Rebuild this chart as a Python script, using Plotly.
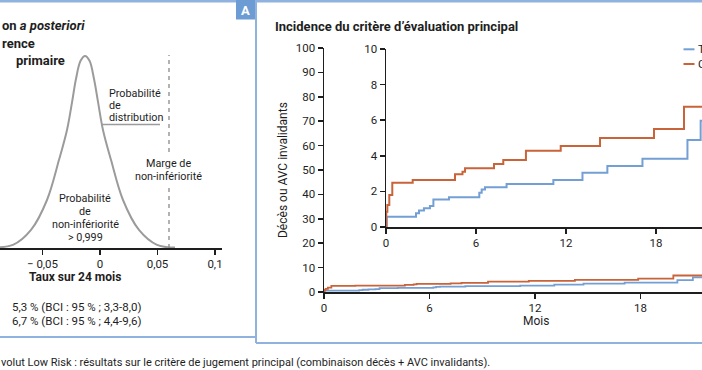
import plotly.graph_objects as go

W, H = 702, 370

# ---------------- data ----------------
# Kaplan-Meier style cumulative incidence (%)
tavi_months = [0, 0.05, 2.0, 2.2, 2.53, 2.93, 3.16, 4.2, 6.22, 6.38, 6.6, 8.04, 11.16, 13.1, 14.76, 17.1, 20.1, 20.98, 24]
tavi_pct = [0, 0.58, 0.77, 0.92, 1.05, 1.18, 1.55, 1.67, 1.93, 2.1, 2.23, 2.42, 2.64, 3.05, 3.43, 3.84, 4.89, 5.97, 5.97]
chir_months = [0, 0.02, 0.09, 0.22, 0.42, 1.78, 4.6, 5.1, 5.27, 7.2, 7.82, 9.33, 11.65, 14.27, 17.87, 19.87, 24]
chir_pct = [0, 0.86, 1.24, 1.8, 2.49, 2.64, 2.96, 3.1, 3.3, 3.54, 3.76, 4.29, 4.55, 5.0, 5.5, 6.76, 6.76]

# posterior distribution of the difference
post_diff = [-0.0957, -0.0757, -0.060, -0.0461, -0.0357, -0.0287, -0.0243, -0.0209, -0.0169, -0.0130,
             -0.0091, -0.0052, -0.0017, 0.0026, 0.0096, 0.0200, 0.0339, 0.0496, 0.0652]
post_density = [0.004, 0.016, 0.094, 0.25, 0.458, 0.615, 0.76, 0.88, 0.975, 1.0,
                0.975, 0.88, 0.76, 0.615, 0.458, 0.25, 0.094, 0.016, 0.002]
ni_margin = 0.06

left_tickvals = [-0.05, 0, 0.05, 0.1]
left_ticktext = ["\u2212 0,05", "0", "0,05", "0,1"]
main_yticks = [0, 10, 20, 30, 40, 50, 60, 70, 80, 90, 100]
inset_yticks = [0, 2, 4, 6, 8, 10]
month_ticks = [0, 6, 12, 18]

series_names = ["TAVI", "Chirurgie"]
ci_texts = ["5,3 % (BCI : 95 % ; 3,3-8,0)", "6,7 % (BCI : 95 % ; 4,4-9,6)"]

# ---------------- style ----------------
BLUE = "#739fd4"
RED = "#c8633a"
FRAME = "#8fb3de"
AFILL = "#6d9bd4"
GRAY = "#9b9b9b"
INK = "#1e1e1e"
FONT = "Roboto"


def px(x):
    return x / W


def py(y):
    return 1 - y / H


fig = go.Figure()

# left: posterior curve
fig.add_trace(go.Scatter(x=post_diff, y=post_density, mode="lines",
                         line=dict(color=GRAY, width=2, shape="spline", smoothing=1),
                         xaxis="x", yaxis="y", showlegend=False, hoverinfo="skip"))

# main chart + inset
for xa, ya, lw in [("x2", "y2", 1.8), ("x3", "y3", 2)]:
    fig.add_trace(go.Scatter(x=tavi_months, y=tavi_pct, mode="lines", name=series_names[0],
                             line=dict(color=BLUE, width=lw, shape="hv"),
                             xaxis=xa, yaxis=ya, showlegend=False))
    fig.add_trace(go.Scatter(x=chir_months, y=chir_pct, mode="lines", name=series_names[1],
                             line=dict(color=RED, width=lw, shape="hv"),
                             xaxis=xa, yaxis=ya, showlegend=False))

axis_common = dict(showline=True, linecolor=INK, linewidth=1.5, ticks="outside", ticklen=5,
                   tickwidth=1.5, tickcolor=INK, showgrid=False, zeroline=False, automargin=False,
                   tickfont=dict(family=FONT, size=11.5, color=INK), fixedrange=True)

fig.update_layout(
    width=W, height=H, autosize=False,
    margin=dict(l=0, r=0, t=0, b=0, pad=0, autoexpand=False),
    paper_bgcolor="white", plot_bgcolor="rgba(0,0,0,0)",
    font=dict(family=FONT, color=INK),
    showlegend=False,
    xaxis=dict(domain=[0, px(222)], range=[-0.08696, 0.10609], anchor="y",
               tickvals=left_tickvals, ticktext=left_ticktext, **axis_common),
    yaxis=dict(domain=[py(248), py(36.8)], range=[0, 1.1], anchor="x", visible=False, fixedrange=True),
    xaxis2=dict(domain=[px(324), 1], range=[0, 21.5], anchor="y2", tickvals=month_ticks, **axis_common),
    yaxis2=dict(domain=[py(292), py(48)], range=[0, 100], anchor="x2", tickvals=main_yticks, **axis_common),
    xaxis3=dict(domain=[px(386), 1], range=[0, 21.07], anchor="y3", tickvals=month_ticks, **axis_common),
    yaxis3=dict(domain=[py(227), py(49)], range=[0, 10], anchor="x3", tickvals=inset_yticks, **axis_common),
)

shapes = []
# frame
shapes.append(dict(type="line", xref="paper", yref="paper", x0=0, x1=1, y0=py(1.3), y1=py(1.3),
                   line=dict(color=FRAME, width=2.5)))
shapes.append(dict(type="line", xref="paper", yref="paper", x0=px(256), x1=px(256), y0=py(0), y1=py(343),
                   line=dict(color=FRAME, width=2)))
shapes.append(dict(type="line", xref="paper", yref="paper", x0=0, x1=px(256), y0=py(337), y1=py(337),
                   line=dict(color=FRAME, width=2)))
shapes.append(dict(type="line", xref="paper", yref="paper", x0=px(256), x1=1, y0=py(343), y1=py(343),
                   line=dict(color=FRAME, width=2)))
# "A" tag
shapes.append(dict(type="rect", xref="paper", yref="paper", x0=px(236), x1=px(255), y0=py(0), y1=py(19.5),
                   fillcolor=AFILL, line=dict(width=0)))
# non-inferiority margin
shapes.append(dict(type="line", xref="x", yref="paper", x0=ni_margin, x1=ni_margin, y0=py(248), y1=py(55),
                   line=dict(color="#8a8a8a", width=1.3, dash="4px,4px")))
# leader line under "distribution"
shapes.append(dict(type="line", xref="paper", yref="paper", x0=px(102), x1=px(160), y0=py(124.5), y1=py(124.5),
                   line=dict(color=GRAY, width=1.5)))
# legend swatches
for yy, col in [(49.3, BLUE), (64, RED)]:
    shapes.append(dict(type="line", xref="paper", yref="paper", x0=px(683.5), x1=px(694.5), y0=py(yy), y1=py(yy),
                       line=dict(color=col, width=2)))

annotations = []


def ann(text, x, y, size=11, anchor="left", color=INK, angle=0, bg=None):
    d = dict(text=text, x=px(x), y=py(y), xref="paper", yref="paper", showarrow=False,
             xanchor=anchor, yanchor="middle", font=dict(family=FONT, size=size, color=color),
             textangle=angle)
    if bg:
        d["bgcolor"] = bg
    annotations.append(d)


# left panel title fragments
ann("<b>on <i>a posteriori</i></b>", -0.5, 26, 13)
ann("<b>rence</b>", -0.5, 43, 13)
ann("<b>primaire</b>", 13.5, 60, 13)

# left panel labels
ann("Probabilité", 107, 93, 10.8)
ann("de", 107, 106, 10.8)
ann("distribution", 107, 117.5, 10.8)
ann("Marge de", 168, 163.5, 10.8, "center", bg="white")
ann("non-infériorité", 168, 176.5, 10.8, "center", bg="white")
ann("Probabilité", 85, 199, 10.8, "center")
ann("de", 85, 211.5, 10.8, "center")
ann("non-infériorité", 85, 224, 10.8, "center")
ann("> 0,999", 85, 237, 10.8, "center")
ann("<b>Taux sur 24 mois</b>", 75, 277, 12, "center")
ann(ci_texts[0], 9.5, 307, 11.5)
ann(ci_texts[1], 9.5, 321, 11.5)

# caption
ann("volut Low Risk : résultats sur le critère de jugement principal (combinaison décès + AVC invalidants).",
    -1, 362, 11)

# right panel
ann("<b>A</b>", 245.5, 10.5, 13, "center", color="white")
ann("<b>Incidence du critère d’évaluation principal</b>", 272.5, 26.5, 13)
ann("Décès ou AVC invalidants", 283, 170, 12, "center", angle=-90)
ann("Mois", 536, 321, 12, "center")
ann(series_names[0], 696, 49, 11.5)
ann(series_names[1], 696, 64, 11.5)

fig.update_layout(shapes=shapes, annotations=annotations)

fig.write_html("out.html",
               config={"displayModeBar": False, "staticPlot": True},
               post_script="document.body.style.margin='0';document.body.style.overflow='hidden';")
